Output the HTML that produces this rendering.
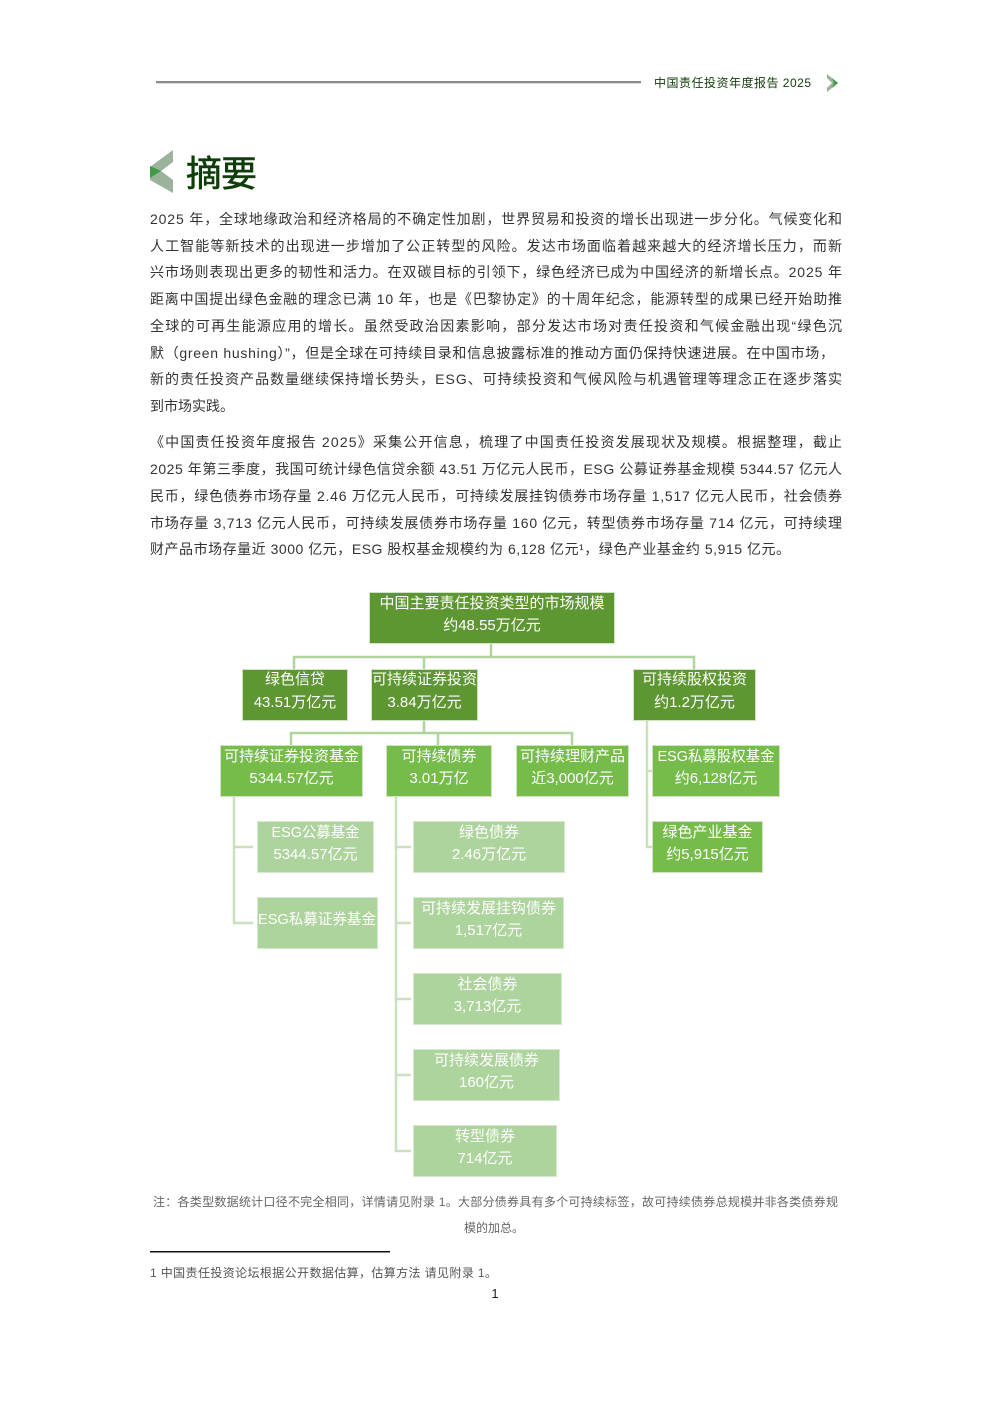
<!DOCTYPE html>
<html lang="zh">
<head>
<meta charset="utf-8">
<title>摘要</title>
<style>
html,body{margin:0;padding:0;background:#fff;width:992px;height:1403px;overflow:hidden}
svg{display:block;font-family:"Liberation Sans","Noto Sans CJK SC",sans-serif}
.b{font-size:14px;fill:#333}
.n{font-size:15px;fill:#fff;text-anchor:middle}
.c1{stroke:#afd59c;stroke-width:2.5;fill:none}
.c2{stroke:#c9e2bd;stroke-width:2.5;fill:none}
.r1{fill:#5e9732;stroke:#cfe5c2;stroke-width:1}
.r2{fill:#76bc4a;stroke:#cfe5c2;stroke-width:1}
.r3{fill:#aed49d;stroke:#d6e9cc;stroke-width:1}
</style>
</head>
<body>
<svg width="992" height="1403" viewBox="0 0 992 1403" xmlns="http://www.w3.org/2000/svg">
<rect width="992" height="1403" fill="#fff"/>

<!-- header -->
<rect x="156" y="81" width="485" height="2" fill="#8c8c8c"/>
<rect x="156" y="83" width="485" height="1" fill="#dedede"/>
<text x="654" y="87" font-size="12" fill="#0f3d0a" textLength="157" lengthAdjust="spacing">中国责任投资年度报告 2025</text>
<polygon points="827,74 838,83 827,92 827,88 832,83 827,78" fill="#9bb39a"/>
<polygon points="832,78 838,83 832,88 834,83" fill="#3f9c45"/>

<!-- title -->
<polygon points="173,150 150,167 150,180 173,193 173,180 161,171 173,162" fill="#9bb39a"/>
<polygon points="150,166 161,171 150,178" fill="#3f9c45"/>
<text x="186" y="186" font-size="36" font-weight="400" fill="#0f3d0a" stroke="#0f3d0a" stroke-width="0.6" textLength="71" lengthAdjust="spacing">摘要</text>

<!-- paragraph 1 -->
<text class="b" x="150" y="224" textLength="692" lengthAdjust="spacing">2025 年，全球地缘政治和经济格局的不确定性加剧，世界贸易和投资的增长出现进一步分化。气候变化和</text>
<text class="b" x="150" y="251" textLength="692" lengthAdjust="spacing">人工智能等新技术的出现进一步增加了公正转型的风险。发达市场面临着越来越大的经济增长压力，而新</text>
<text class="b" x="150" y="277" textLength="692" lengthAdjust="spacing">兴市场则表现出更多的韧性和活力。在双碳目标的引领下，绿色经济已成为中国经济的新增长点。2025 年</text>
<text class="b" x="150" y="304" textLength="692" lengthAdjust="spacing">距离中国提出绿色金融的理念已满 10 年，也是《巴黎协定》的十周年纪念，能源转型的成果已经开始助推</text>
<text class="b" x="150" y="331" textLength="692" lengthAdjust="spacing">全球的可再生能源应用的增长。虽然受政治因素影响，部分发达市场对责任投资和气候金融出现“绿色沉</text>
<text class="b" x="150" y="358" textLength="684" lengthAdjust="spacing">默（green hushing）”，但是全球在可持续目录和信息披露标准的推动方面仍保持快速进展。在中国市场，</text>
<text class="b" x="150" y="384" textLength="692" lengthAdjust="spacing">新的责任投资产品数量继续保持增长势头，ESG、可持续投资和气候风险与机遇管理等理念正在逐步落实</text>
<text class="b" x="150" y="411" textLength="84" lengthAdjust="spacing">到市场实践。</text>

<!-- paragraph 2 -->
<text class="b" x="150" y="447" textLength="692" lengthAdjust="spacing">《中国责任投资年度报告 2025》采集公开信息，梳理了中国责任投资发展现状及规模。根据整理，截止</text>
<text class="b" x="150" y="474" textLength="692" lengthAdjust="spacing">2025 年第三季度，我国可统计绿色信贷余额 43.51 万亿元人民币，ESG 公募证券基金规模 5344.57 亿元人</text>
<text class="b" x="150" y="501" textLength="692" lengthAdjust="spacing">民币，绿色债券市场存量 2.46 万亿元人民币，可持续发展挂钩债券市场存量 1,517 亿元人民币，社会债券</text>
<text class="b" x="150" y="528" textLength="692" lengthAdjust="spacing">市场存量 3,713 亿元人民币，可持续发展债券市场存量 160 亿元，转型债券市场存量 714 亿元，可持续理</text>
<text class="b" x="150" y="554" textLength="640" lengthAdjust="spacing">财产品市场存量近 3000 亿元，ESG 股权基金规模约为 6,128 亿元¹，绿色产业基金约 5,915 亿元。</text>

<!-- connectors -->
<path class="c1" d="M491 644V657M294 669V657H694V669M424 657V669"/>
<path class="c1" d="M424 721V733M291 745V733H572V745M438 733V745"/>
<path class="c2" d="M647 721V847H652M647 771H652"/>
<path class="c2" d="M234 797V923H253M234 847H253"/>
<path class="c2" d="M396 797V1151H411M396 847H411M396 923H411M396 999H411M396 1075H411"/>

<!-- boxes -->
<rect class="r1" x="369.500" y="592.500" width="245" height="51"/>
<text class="n" x="492" y="608">中国主要责任投资类型的市场规模</text>
<text class="n" x="492" y="630">约48.55万亿元</text>

<rect class="r1" x="242.500" y="669.500" width="105" height="51"/>
<text class="n" x="295" y="684">绿色信贷</text><text class="n" x="295" y="707">43.51万亿元</text>
<rect class="r1" x="371.500" y="669.500" width="106" height="51"/>
<text class="n" x="424.500" y="684">可持续证券投资</text><text class="n" x="424.500" y="707">3.84万亿元</text>
<rect class="r1" x="633.500" y="669.500" width="122" height="51"/>
<text class="n" x="694.500" y="684">可持续股权投资</text><text class="n" x="694.500" y="707">约1.2万亿元</text>

<rect class="r2" x="220.500" y="745.500" width="142" height="51"/>
<text class="n" x="291.500" y="761">可持续证券投资基金</text><text class="n" x="291.500" y="783">5344.57亿元</text>
<rect class="r2" x="386.500" y="745.500" width="105" height="51"/>
<text class="n" x="439" y="761">可持续债券</text><text class="n" x="439" y="783">3.01万亿</text>
<rect class="r2" x="516.500" y="745.500" width="112" height="51"/>
<text class="n" x="572.500" y="761">可持续理财产品</text><text class="n" x="572.500" y="783">近3,000亿元</text>
<rect class="r2" x="652.500" y="745.500" width="127" height="51"/>
<text class="n" x="716" y="761" textLength="117" lengthAdjust="spacingAndGlyphs">ESG私募股权基金</text><text class="n" x="716" y="783">约6,128亿元</text>
<rect class="r2" x="652.500" y="821.500" width="110" height="51"/>
<text class="n" x="707.500" y="837">绿色产业基金</text><text class="n" x="707.500" y="859">约5,915亿元</text>

<rect class="r3" x="257.500" y="821.500" width="116" height="51"/>
<text class="n" x="315.500" y="837" textLength="88" lengthAdjust="spacingAndGlyphs">ESG公募基金</text><text class="n" x="315.500" y="859">5344.57亿元</text>
<rect class="r3" x="257.500" y="897.500" width="120" height="51"/>
<text class="n" x="317" y="924" textLength="118" lengthAdjust="spacingAndGlyphs">ESG私募证券基金</text>

<rect class="r3" x="413.500" y="821.500" width="151" height="51"/>
<text class="n" x="489" y="837">绿色债券</text><text class="n" x="489" y="859">2.46万亿元</text>
<rect class="r3" x="413.500" y="897.500" width="150" height="51"/>
<text class="n" x="488.500" y="913">可持续发展挂钩债券</text><text class="n" x="488.500" y="935">1,517亿元</text>
<rect class="r3" x="413.500" y="973.500" width="148" height="51"/>
<text class="n" x="487.500" y="989">社会债券</text><text class="n" x="487.500" y="1011">3,713亿元</text>
<rect class="r3" x="413.500" y="1049.500" width="146" height="51"/>
<text class="n" x="486.500" y="1065">可持续发展债券</text><text class="n" x="486.500" y="1087">160亿元</text>
<rect class="r3" x="413.500" y="1125.500" width="143" height="51"/>
<text class="n" x="485" y="1141">转型债券</text><text class="n" x="485" y="1163">714亿元</text>

<!-- note -->
<text x="153" y="1206" font-size="12" fill="#666" textLength="685" lengthAdjust="spacing">注：各类型数据统计口径不完全相同，详情请见附录 1。大部分债券具有多个可持续标签，故可持续债券总规模并非各类债券规</text>
<text x="464" y="1232" font-size="12" fill="#666" textLength="60" lengthAdjust="spacing">模的加总。</text>

<!-- footnote -->
<rect x="150" y="1251" width="240" height="1.500" fill="#111"/>
<text x="150" y="1277" font-size="12" fill="#555" textLength="347" lengthAdjust="spacing">1 中国责任投资论坛根据公开数据估算，估算方法 请见附录 1。</text>
<text x="495" y="1298" font-size="13" fill="#222" text-anchor="middle">1</text>
</svg>
</body>
</html>
